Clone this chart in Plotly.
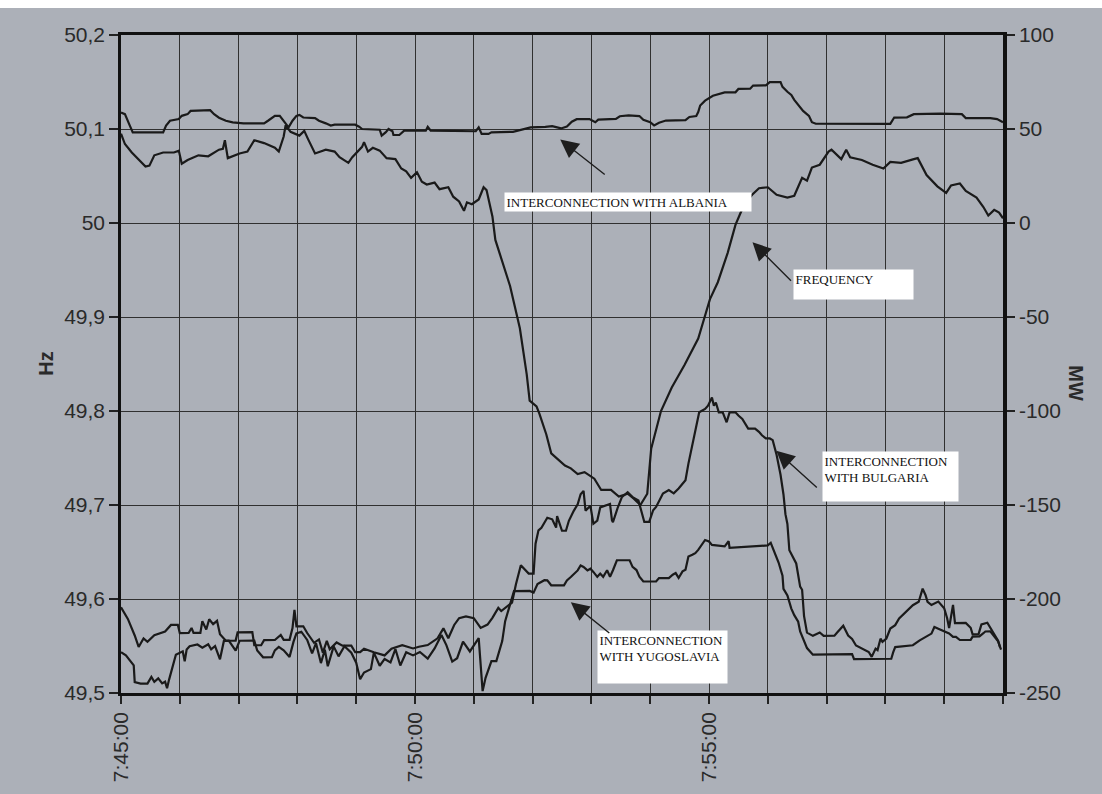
import pandas as pd
import plotly.graph_objects as go

BASE = pd.Timestamp("2000-01-01 07:45:00")

# ---------------- data (seconds after 7:45:00) ----------------
freq_sec = [0, 4, 11, 18, 25, 29, 34, 43, 54, 59, 62, 68, 79, 89, 100, 104, 106, 109, 114, 121,
            129, 136, 146, 157, 161, 166, 168, 173, 182, 187, 191, 198, 209, 218, 223, 232, 236, 241, 246, 248,
            252, 257, 264, 271, 280, 286, 291, 296, 302, 307, 312, 320, 325, 334, 339, 345, 350, 353, 358, 365,
            370, 373, 379, 382, 387, 397, 407, 414, 417, 424, 427, 434, 439, 446, 453, 459, 466, 473, 483, 490,
            500, 508, 517, 523, 530, 537, 541, 551, 562, 575, 589, 597, 601, 609, 619, 627, 636, 644, 651, 660,
            669, 680, 687, 695, 700, 705, 713, 722, 725, 735, 740, 744, 756, 767, 778, 785, 796, 809, 813, 822,
            833, 842, 847, 856, 862, 873, 880, 885, 891, 896, 900]
freq_hz = [50.095, 50.084, 50.075, 50.068, 50.060, 50.061, 50.072, 50.075, 50.075, 50.077, 50.063, 50.067, 50.072, 50.071, 50.078, 50.079, 50.088, 50.069, 50.071, 50.074,
           50.076, 50.088, 50.085, 50.080, 50.076, 50.092, 50.104, 50.097, 50.093, 50.098, 50.089, 50.074, 50.078, 50.076, 50.070, 50.064, 50.070, 50.075, 50.081, 50.086,
           50.076, 50.080, 50.077, 50.069, 50.068, 50.058, 50.055, 50.048, 50.054, 50.044, 50.041, 50.043, 50.036, 50.038, 50.028, 50.023, 50.013, 50.022, 50.020, 50.025,
           50.038, 50.035, 50.007, 49.982, 49.965, 49.933, 49.888, 49.839, 49.811, 49.805, 49.797, 49.775, 49.755, 49.748, 49.742, 49.739, 49.733, 49.735, 49.728, 49.716,
           49.716, 49.709, 49.712, 49.707, 49.700, 49.712, 49.760, 49.800, 49.825, 49.849, 49.877, 49.905, 49.919, 49.937, 49.968, 49.998, 50.020, 50.030, 50.037, 50.038,
           50.030, 50.027, 50.029, 50.048, 50.045, 50.059, 50.062, 50.076, 50.078, 50.068, 50.078, 50.070, 50.067, 50.062, 50.058, 50.065, 50.064, 50.068, 50.069, 50.051,
           50.039, 50.032, 50.040, 50.042, 50.034, 50.027, 50.017, 50.008, 50.014, 50.011, 50.005]

albania_sec = [0, 4, 9, 12, 43, 46, 50, 59, 62, 68, 71, 91, 95, 100, 107, 114, 125, 146, 150, 157,
               162, 166, 171, 175, 179, 182, 186, 198, 202, 209, 214, 218, 239, 243, 246, 264, 266, 270, 273, 277,
               278, 284, 289, 311, 313, 316, 362, 365, 368, 375, 378, 400, 418, 433, 440, 449, 455, 460, 465, 478,
               484, 487, 505, 509, 518, 529, 533, 540, 544, 549, 556, 576, 580, 587, 589, 591, 596, 604, 611, 616,
               627, 630, 642, 645, 658, 662, 673, 675, 680, 684, 687, 691, 696, 702, 705, 709, 785, 789, 802, 809,
               836, 858, 862, 887, 894, 900]
albania_mw = [58.8, 57.9, 51.8, 48.2, 48.2, 51.8, 54.4, 55.3, 57.0, 57.9, 59.6, 60.0, 57.9, 56.0, 54.4, 53.5, 53.0, 53.0, 54.4, 57.0,
              57.0, 54.4, 50.9, 54.4, 57.0, 57.5, 56.1, 55.8, 54.4, 53.0, 51.8, 52.3, 52.3, 51.2, 50.0, 49.6, 46.5, 48.2, 50.0, 48.8,
              46.8, 46.8, 49.1, 49.1, 51.2, 49.1, 48.8, 50.9, 47.4, 47.4, 48.2, 48.5, 50.9, 51.1, 51.5, 50.3, 51.3, 53.9, 55.2, 55.3,
              53.6, 55.0, 55.4, 56.8, 57.2, 56.9, 54.9, 53.6, 51.9, 53.3, 54.5, 54.7, 56.4, 56.9, 59.0, 62.5, 65.1, 67.7, 68.9, 69.5,
              69.5, 71.3, 71.4, 73.1, 73.2, 74.9, 75.0, 72.4, 69.8, 68.1, 65.5, 63.0, 59.6, 57.0, 53.6, 52.8, 52.7, 56.1, 56.2, 57.9,
              58.2, 57.9, 55.8, 55.8, 55.3, 53.6]

bulgaria_sec = [0, 7, 14, 18, 23, 27, 34, 40, 45, 51, 58, 60, 69, 72, 74, 81, 83, 87, 90, 94,
                98, 101, 107, 117, 119, 134, 136, 143, 146, 157, 163, 166, 172, 175, 177, 179, 186, 190, 197, 202,
                206, 210, 213, 220, 226, 235, 239, 244, 248, 258, 269, 276, 287, 298, 304, 313, 318, 323, 329, 334,
                340, 345, 352, 360, 367, 374, 379, 385, 388, 394, 399, 403, 408, 416, 421, 423, 426, 429, 435, 440,
                444, 445, 450, 454, 457, 462, 466, 469, 472, 474, 479, 482, 486, 489, 499, 501, 502, 507, 511, 517,
                522, 528, 531, 534, 539, 543, 546, 553, 559, 564, 569, 576, 579, 583, 586, 590, 596, 599, 603, 605,
                607, 610, 614, 618, 621, 627, 630, 634, 640, 647, 651, 654, 658, 662, 665, 669, 673, 676, 678, 680,
                682, 686, 689, 693, 695, 697, 700, 706, 713, 717, 728, 731, 737, 742, 746, 750, 757, 763, 766, 770,
                772, 775, 777, 781, 785, 790, 794, 801, 808, 814, 818, 821, 823, 827, 834, 840, 843, 845, 849, 851,
                862, 867, 869, 875, 878, 884, 887, 891, 895, 897]
bulgaria_mw = [-204.4, -210.6, -219.4, -225.5, -221.0, -222.8, -219.2, -218.3, -217.3, -213.8, -213.7, -218.2, -218.1, -215.4, -218.0, -218.0, -211.8, -216.2, -210.8, -213.4,
               -211.6, -218.7, -222.2, -222.1, -217.7, -217.6, -224.6, -224.6, -221.9, -221.8, -219.1, -221.7, -221.7, -215.5, -205.8, -214.6, -214.5, -218.1, -223.3, -221.5,
               -228.5, -222.3, -226.7, -223.1, -224.8, -224.8, -228.3, -228.3, -226.5, -228.3, -230.0, -226.4, -224.6, -226.3, -225.4, -224.5, -222.7, -220.9, -215.6, -220.9,
               -213.8, -210.2, -209.3, -210.2, -215.4, -213.6, -210.0, -204.7, -206.4, -203.7, -201.9, -192.2, -182.1, -186.5, -186.5, -170.6, -163.5, -162.1, -156.8, -157.6,
               -162.0, -155.9, -163.7, -163.7, -158.4, -153.1, -149.6, -144.3, -142.5, -153.0, -150.4, -160.0, -158.3, -151.3, -149.5, -158.2, -159.1, -151.2, -145.9, -143.2,
               -145.8, -147.6, -152.9, -159.0, -159.0, -152.8, -151.0, -143.9, -142.1, -143.8, -141.2, -136.8, -128.0, -117.4, -109.5, -100.7, -98.9, -97.2, -92.8, -97.2,
               -95.5, -100.7, -100.7, -106.0, -100.7, -100.7, -102.4, -104.2, -109.4, -109.4, -111.1, -112.9, -114.6, -114.6, -115.5, -123.4, -133.9, -144.4, -154.9, -160.1,
               -174.1, -178.5, -181.1, -193.4, -195.1, -209.1, -217.9, -219.6, -217.8, -219.6, -219.5, -217.7, -214.2, -219.4, -221.2, -224.7, -226.4, -228.2, -230.8, -226.4,
               -227.2, -221.1, -222.8, -221.0, -215.7, -213.9, -210.4, -206.8, -203.3, -201.5, -194.5, -198.0, -201.5, -203.2, -201.4, -204.9, -210.2, -215.4, -203.1, -212.8,
               -212.7, -215.3, -218.8, -218.8, -213.5, -212.6, -215.2, -218.7, -222.2, -225.7]

yugoslavia_sec = [0, 5, 13, 14, 20, 27, 31, 34, 38, 42, 45, 47, 49, 52, 56, 63, 65, 67, 70, 78,
                  83, 89, 92, 96, 99, 101, 105, 110, 117, 121, 136, 139, 145, 154, 157, 161, 166, 172, 176, 179,
                  184, 190, 195, 199, 204, 208, 211, 217, 222, 228, 235, 240, 244, 248, 255, 258, 264, 269, 275, 280,
                  285, 291, 298, 305, 313, 320, 327, 332, 338, 343, 349, 356, 365, 369, 372, 378, 383, 389, 392, 398,
                  401, 417, 421, 425, 432, 435, 439, 452, 455, 459, 466, 469, 472, 476, 479, 482, 486, 489, 492, 496,
                  499, 502, 506, 519, 522, 526, 529, 533, 546, 549, 559, 563, 566, 569, 573, 576, 579, 583, 586, 589,
                  593, 596, 600, 603, 616, 620, 621, 660, 663, 667, 671, 675, 676, 680, 684, 687, 691, 693, 697, 700,
                  706, 746, 748, 786, 788, 790, 808, 815, 827, 830, 834, 838, 845, 849, 852, 856, 867, 869, 876, 880,
                  882, 887, 891, 895, 898]
yugoslavia_mw = [-228.3, -230.0, -235.3, -244.2, -245.0, -245.0, -241.4, -244.0, -242.2, -244.9, -244.0, -247.5, -243.0, -237.6, -229.6, -227.8, -233.1, -226.9, -225.1, -224.2,
                 -225.9, -224.1, -226.8, -225.0, -229.4, -232.1, -222.3, -222.2, -227.5, -222.2, -222.1, -227.4, -231.0, -230.9, -227.3, -225.5, -227.3, -230.8, -222.8, -218.3,
                 -217.4, -221.8, -228.9, -223.5, -234.1, -227.0, -235.8, -225.2, -230.5, -225.1, -228.6, -233.9, -242.7, -239.1, -237.3, -228.5, -235.5, -231.9, -233.7, -226.6,
                 -235.4, -228.3, -230.0, -228.2, -231.7, -226.3, -219.2, -224.5, -233.3, -231.5, -222.7, -227.9, -220.8, -249.0, -241.9, -233.0, -233.0, -222.4, -211.8, -201.2,
                 -195.8, -195.7, -196.6, -192.1, -190.0, -190.1, -192.7, -192.7, -190.1, -188.3, -184.8, -182.2, -183.0, -184.8, -183.9, -185.6, -188.2, -186.5, -188.2, -184.7,
                 -188.2, -184.7, -179.4, -179.4, -182.9, -184.6, -188.1, -190.7, -190.7, -188.9, -188.9, -187.1, -186.2, -188.8, -185.3, -184.4, -177.4, -176.5, -175.6, -173.9,
                 -171.2, -168.6, -169.4, -171.2, -172.0, -169.3, -172.8, -171.5, -170.1, -175.3, -180.6, -187.6, -194.6, -198.1, -205.1, -208.6, -212.1, -217.3, -222.6, -226.1,
                 -229.6, -229.3, -232.0, -231.8, -228.3, -225.6, -224.6, -222.0, -218.4, -214.9, -215.8, -216.6, -218.3, -220.1, -220.1, -221.8, -221.7, -220.0, -219.9, -218.2,
                 -217.3, -217.2, -219.9, -222.5, -226.9]

# ---------------- ticks ----------------
x_tick_sec = [60 * m for m in range(16)]
x_tick_text = ["7:45:00", "", "", "", "", "7:50:00", "", "", "", "", "7:55:00", "", "", "", "", ""]
hz_ticks = [49.5, 49.6, 49.7, 49.8, 49.9, 50.0, 50.1, 50.2]
hz_text = ["49,5", "49,6", "49,7", "49,8", "49,9", "50", "50,1", "50,2"]
mw_ticks = [-250, -200, -150, -100, -50, 0, 50, 100]
mw_text = ["-250", "-200", "-150", "-100", "-50", "0", "50", "100"]


def tt(secs):
    return BASE + pd.to_timedelta(secs, unit="s")


LINE = dict(color="#1a1a1a", width=2.2)
PAPER = "#acb0b8"
GRID = "#303030"
TXT = "#2a2a2a"

fig = go.Figure()
fig.add_trace(go.Scatter(x=tt(freq_sec), y=freq_hz, mode="lines", line=LINE, name="Frequency", yaxis="y"))
fig.add_trace(go.Scatter(x=tt(albania_sec), y=albania_mw, mode="lines", line=LINE, name="Albania", yaxis="y2"))
fig.add_trace(go.Scatter(x=tt(bulgaria_sec), y=bulgaria_mw, mode="lines", line=LINE, name="Bulgaria", yaxis="y2"))
fig.add_trace(go.Scatter(x=tt(yugoslavia_sec), y=yugoslavia_mw, mode="lines", line=LINE, name="Yugoslavia", yaxis="y2"))

tickfont = dict(family="Liberation Sans, Arial, sans-serif", size=21, color=TXT)

fig.update_layout(
    width=1102, height=794, autosize=False,
    margin=dict(l=121, r=99, t=35, b=99),
    paper_bgcolor=PAPER, plot_bgcolor=PAPER,
    showlegend=False,
    xaxis=dict(
        type="date", range=[tt(0), tt(900)],
        tickmode="array", tickvals=tt(x_tick_sec), ticktext=x_tick_text,
        tickangle=-90, tickfont=tickfont,
        ticks="outside", ticklen=8, tickcolor="#222", tickwidth=1.5,
        showgrid=True, gridcolor=GRID, gridwidth=1.2,
        showline=True, linecolor="#111", linewidth=2.5, mirror=True,
        zeroline=False,
    ),
    yaxis=dict(
        range=[49.5, 50.2], tickmode="array", tickvals=hz_ticks, ticktext=hz_text,
        tickfont=tickfont, ticks="outside", ticklen=9, tickcolor="#222", tickwidth=1.5,
        showgrid=True, gridcolor=GRID, gridwidth=1.2,
        showline=True, linecolor="#111", linewidth=2.5, zeroline=False,
    ),
    yaxis2=dict(
        range=[-250, 100], overlaying="y", side="right",
        tickmode="array", tickvals=mw_ticks, ticktext=mw_text,
        tickfont=tickfont, ticks="outside", ticklen=8, tickcolor="#222", tickwidth=1.5,
        showgrid=False, showline=True, linecolor="#111", linewidth=3.5, zeroline=False,
    ),
)

# axis titles
title_font = dict(family="Liberation Sans, Arial, sans-serif", size=20, color=TXT)
fig.add_annotation(xref="paper", yref="paper", x=-0.100, y=0.50, text="<b>Hz</b>",
                   showarrow=False, textangle=-90, font=title_font)
fig.add_annotation(xref="paper", yref="paper", x=1.098, y=0.47, text="<b>MW</b>",
                   showarrow=False, textangle=90, font=title_font)

# white label boxes
box_font = dict(family="Liberation Serif, Times New Roman, serif", size=13, color="#111")
boxes = [
    ("INTERCONNECTION WITH ALBANIA", 0.434, 0.762, 243, 15),
    ("FREQUENCY", 0.762, 0.644, 116, 26),
    ("INTERCONNECTION<br>WITH BULGARIA", 0.795, 0.368, 132, 46),
    ("INTERCONNECTION<br>WITH YUGOSLAVIA", 0.540, 0.095, 126, 49),
]
for text, bx, by, bw, bh in boxes:
    fig.add_annotation(xref="paper", yref="paper", x=bx, y=by, xanchor="left", yanchor="top",
                       text=text, showarrow=False, align="left", valign="top",
                       width=bw, height=bh, bgcolor="white", borderpad=1.5, font=box_font)

# arrows
arrows = [
    (0.498, 0.841, 46, 36),
    (0.716, 0.685, 40, 40),
    (0.743, 0.368, 42, 38),
    (0.510, 0.138, 40, 32),
]
for hx, hy, ax, ay in arrows:
    fig.add_annotation(xref="paper", yref="paper", x=hx, y=hy, ax=ax, ay=ay, text="",
                       showarrow=True, arrowhead=2, arrowsize=2.6, arrowwidth=1.4,
                       arrowcolor="#1e1e1e")

# white strip at the very top of the photo
fig.add_shape(type="rect", xref="paper", yref="paper", x0=-0.2, x1=1.2, y0=1.041, y1=1.1,
              fillcolor="white", line_width=0, layer="above")

fig.write_html("out.html")
